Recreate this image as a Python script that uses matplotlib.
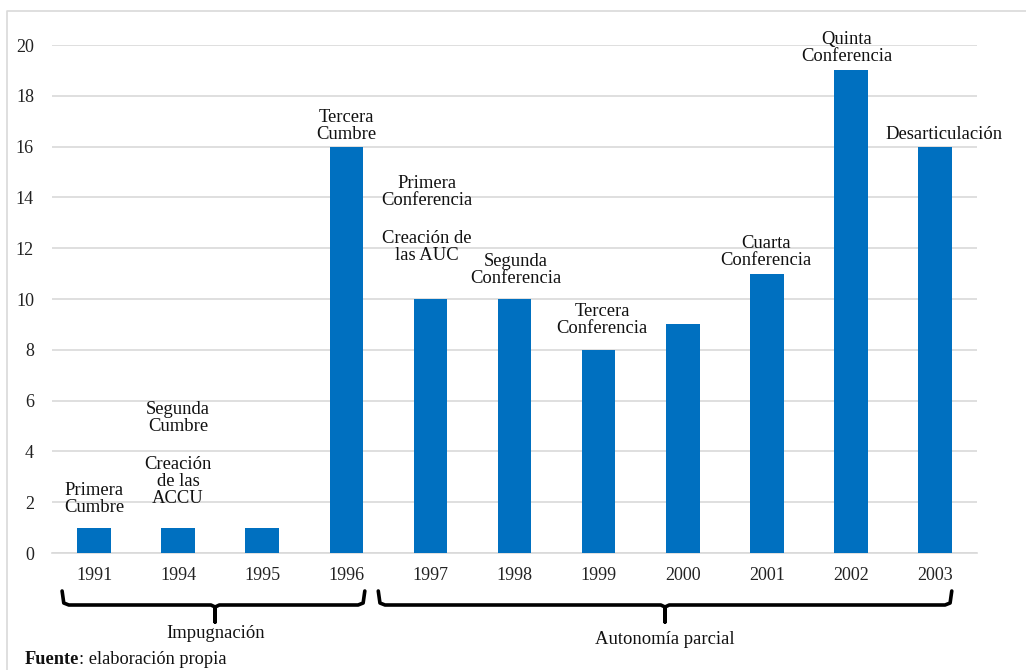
import matplotlib
matplotlib.use("Agg")
import matplotlib.pyplot as plt
from matplotlib.lines import Line2D
import matplotlib.transforms as mtransforms

plt.rcParams["font.family"] = ["Liberation Serif", "DejaVu Serif"]

years = ["1991", "1994", "1995", "1996", "1997", "1998", "1999", "2000", "2001", "2002", "2003"]
counts = [1, 1, 1, 16, 10, 10, 8, 9, 11, 19, 16]

# (x, y, text) in data units
labels = [
    (0.0, 2.13, "Primera\nCumbre"),
    (1.0, 5.31, "Segunda\nCumbre"),
    (1.0, 2.83, "Creación\nde las\nACCU"),
    (3.0, 16.83, "Tercera\nCumbre"),
    (3.96, 14.21, "Primera\nConferencia"),
    (3.96, 12.05, "Creación de\nlas AUC"),
    (5.02, 11.14, "Segunda\nConferencia"),
    (6.04, 9.17, "Tercera\nConferencia"),
    (7.99, 11.85, "Cuarta\nConferencia"),
    (8.95, 19.88, "Quinta\nConferencia"),
    (10.11, 16.46, "Desarticulación"),
]

periods = ["Impugnación", "Autonomía parcial"]

W, H = 1026, 670
fig = plt.figure(figsize=(W / 100, H / 100), dpi=100)
ax = fig.add_axes([52 / W, 1 - 553 / H, 925 / W, 508 / H])

x = range(len(years))
ax.bar(x, counts, width=0.4, color="#0070C0", zorder=3)
ax.set_xlim(-0.5, 10.5)
ax.set_ylim(0, 20)
ax.set_yticks(range(0, 21, 2))
ax.set_xticks(list(x))
ax.set_xticklabels(years)
ax.tick_params(axis="both", length=0, labelsize=13, colors="#222222")
ax.tick_params(axis="y", pad=13)
ax.tick_params(axis="x", pad=10)
ax.grid(axis="y", color="#D9D9D9", linewidth=1.2, zorder=0)
for s in ["top", "right", "left"]:
    ax.spines[s].set_visible(False)
ax.spines["bottom"].set_color("#D9D9D9")
ax.spines["bottom"].set_linewidth(1.2)

for lx, ly, txt in labels:
    ax.text(lx, ly, txt, ha="center", va="center", fontsize=13.4,
            linespacing=1.0, color="#111111", zorder=4)

# brackets: x in data, y in figure fraction
tr = mtransforms.blended_transform_factory(ax.transData, fig.transFigure)

def fy(px):
    return 1 - px / H

def bracket(x0, x1, xc, label, ly):
    xs = [x0, x0 + 0.02, x0 + 0.08, xc - 0.05, xc, xc, xc, xc + 0.05, x1 - 0.08, x1 - 0.02, x1]
    ys = [591, 603, 605, 605, 607, 622, 607, 605, 605, 603, 591]
    fig.add_artist(Line2D(xs, [fy(v) for v in ys], transform=tr, color="black",
                          linewidth=2.6, solid_joinstyle="round", solid_capstyle="round"))
    fig.text(xc, fy(ly), label, transform=tr, ha="center", va="center", fontsize=13.4,
             color="#111111")

bracket(-0.38, 3.22, 1.44, periods[0], 633)
bracket(3.38, 10.2, 6.79, periods[1], 639)

# outer frame
fig.add_artist(Line2D([7 / W, 7 / W, 1.0], [0, fy(11), fy(11)],
                      transform=fig.transFigure, color="#D9D9D9", linewidth=1.2))

t = fig.text(25 / W, fy(660), "Fuente", fontsize=13.2, fontweight="bold",
             ha="left", va="center", color="#111111")
plt.annotate(": elaboración propia", xy=(1, 0), xycoords=t, va="bottom",
             fontsize=13.2, color="#111111", annotation_clip=False)

fig.savefig("out.png", dpi=100)
